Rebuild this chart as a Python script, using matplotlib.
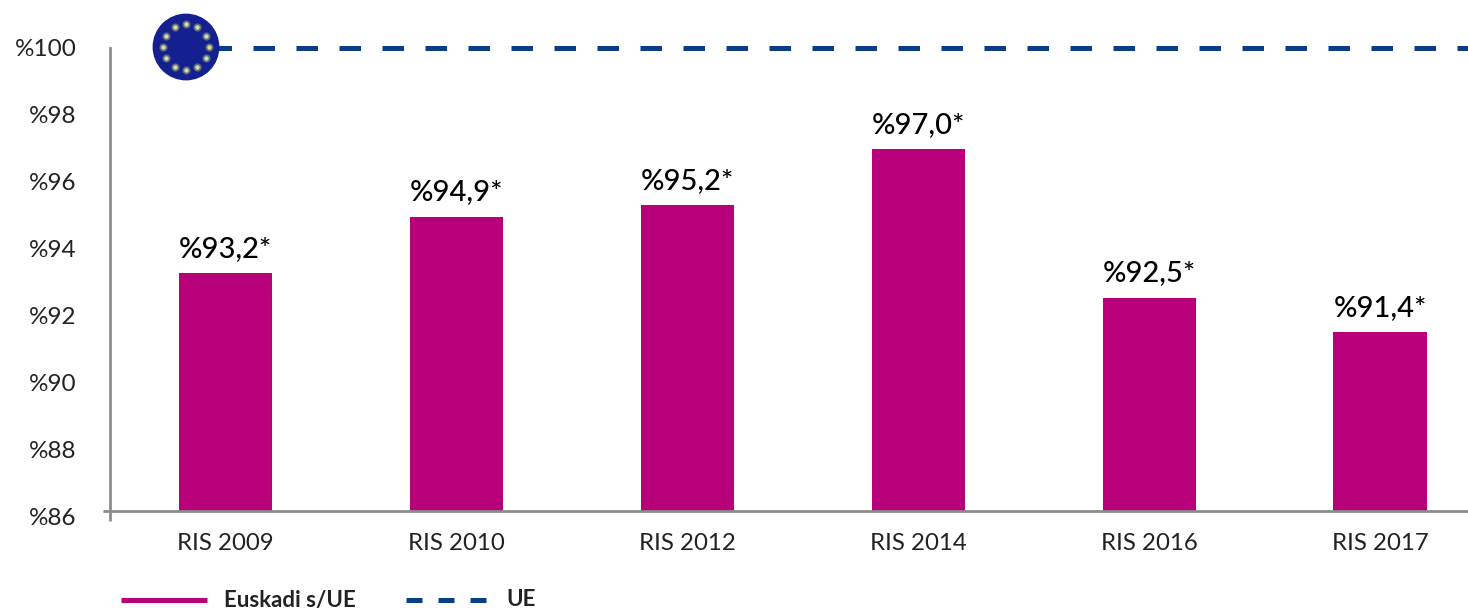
import matplotlib
matplotlib.use("Agg")
import matplotlib.pyplot as plt
from matplotlib.patches import Circle
from matplotlib.transforms import ScaledTranslation
import numpy as np

plt.rcParams['font.family'] = ['Lato', 'DejaVu Sans']

categories = ["RIS 2009", "RIS 2010", "RIS 2012", "RIS 2014", "RIS 2016", "RIS 2017"]
values = [93.2, 94.9, 95.25, 96.95, 92.45, 91.4]
value_labels = ["%93,2*", "%94,9*", "%95,2*", "%97,0*", "%92,5*", "%91,4*"]
y_ticks = [86, 88, 90, 92, 94, 96, 98, 100]
y_tick_labels = ["%86", "%88", "%90", "%92", "%94", "%96", "%98", "%100"]
ue_value = 100

W, H = 1468, 609
MAGENTA = "#b8007a"
BLUE = "#0b3d86"
GREY = "#8c8c8c"

fig = plt.figure(figsize=(W / 100, H / 100), dpi=100)
ax = fig.add_axes([110 / W, 1 - 511 / H, (W - 110) / W, (511 - 48) / H])
ax.set_xlim(-0.5, 5.381)
ax.set_ylim(86, 100)
ax.patch.set_alpha(0)

x = np.arange(len(categories))
ax.bar(x, values, width=0.403, color=MAGENTA, zorder=2)
for xi, v, lab in zip(x, values, value_labels):
    ax.annotate(lab, (xi, v), xytext=(0, 17.5), textcoords="offset points",
                ha="center", va="center", fontsize=21, fontweight="medium", color="black")

# linea UE, empieza debajo de la bandera
ax.axhline(ue_value, xmin=0.0418, color=BLUE, lw=3.6, dashes=(4.3, 4.3), clip_on=False, zorder=1)

ax.set_yticks(y_ticks)
ax.set_yticklabels(y_tick_labels, fontsize=17.5, color="#222222")
ax.set_xticks(x)
ax.set_xticklabels(categories, fontsize=17.3, color="#222222")
ax.tick_params(axis="x", length=0, pad=16)
ax.tick_params(axis="y", length=0, pad=24)
for s in ["top", "right"]:
    ax.spines[s].set_visible(False)
for s in ["left", "bottom"]:
    ax.spines[s].set_color(GREY)
    ax.spines[s].set_linewidth(2)

# las etiquetas del eje y bajan poco a poco respecto a su marca
for tick, label in zip(y_ticks, ax.get_yticklabels()):
    shift = (100 - tick) * 0.36 / 100
    label.set_transform(label.get_transform() + ScaledTranslation(0, -shift, fig.dpi_scale_trans))

# capa en pixeles para bandera, leyenda y marcas del origen
over = fig.add_axes([0, 0, 1, 1], zorder=5)
over.set_xlim(0, W)
over.set_ylim(H, 0)
over.axis("off")
over.plot([110, 110], [511, 521], color=GREY, lw=2, solid_capstyle="butt")
over.plot([103, 110], [511, 511], color=GREY, lw=2, solid_capstyle="butt")

over.add_patch(Circle((186, 47), 32.7, color="#14208f"))
angles = np.deg2rad(np.arange(0, 360, 30))
star_x = 186 + 22.8 * np.cos(angles)
star_y = 47 + 22.8 * np.sin(angles)
over.scatter(star_x, star_y, s=34, color="#5f6f78", linewidths=0)
over.scatter(star_x, star_y, s=10, color="#d3dca6", linewidths=0)

# leyenda
over.plot([121, 207], [600, 600], color=MAGENTA, lw=3.6, solid_capstyle="butt")
over.text(224, 600, "Euskadi s/UE", fontsize=16, fontweight="bold", va="center", color="#222222")
over.plot([406, 492], [600, 600], color=BLUE, lw=3.6, dashes=(3.2, 3.2))
over.text(506, 600, "UE", fontsize=16, fontweight="bold", va="center", color="#222222")

fig.savefig("out.png", dpi=100)
